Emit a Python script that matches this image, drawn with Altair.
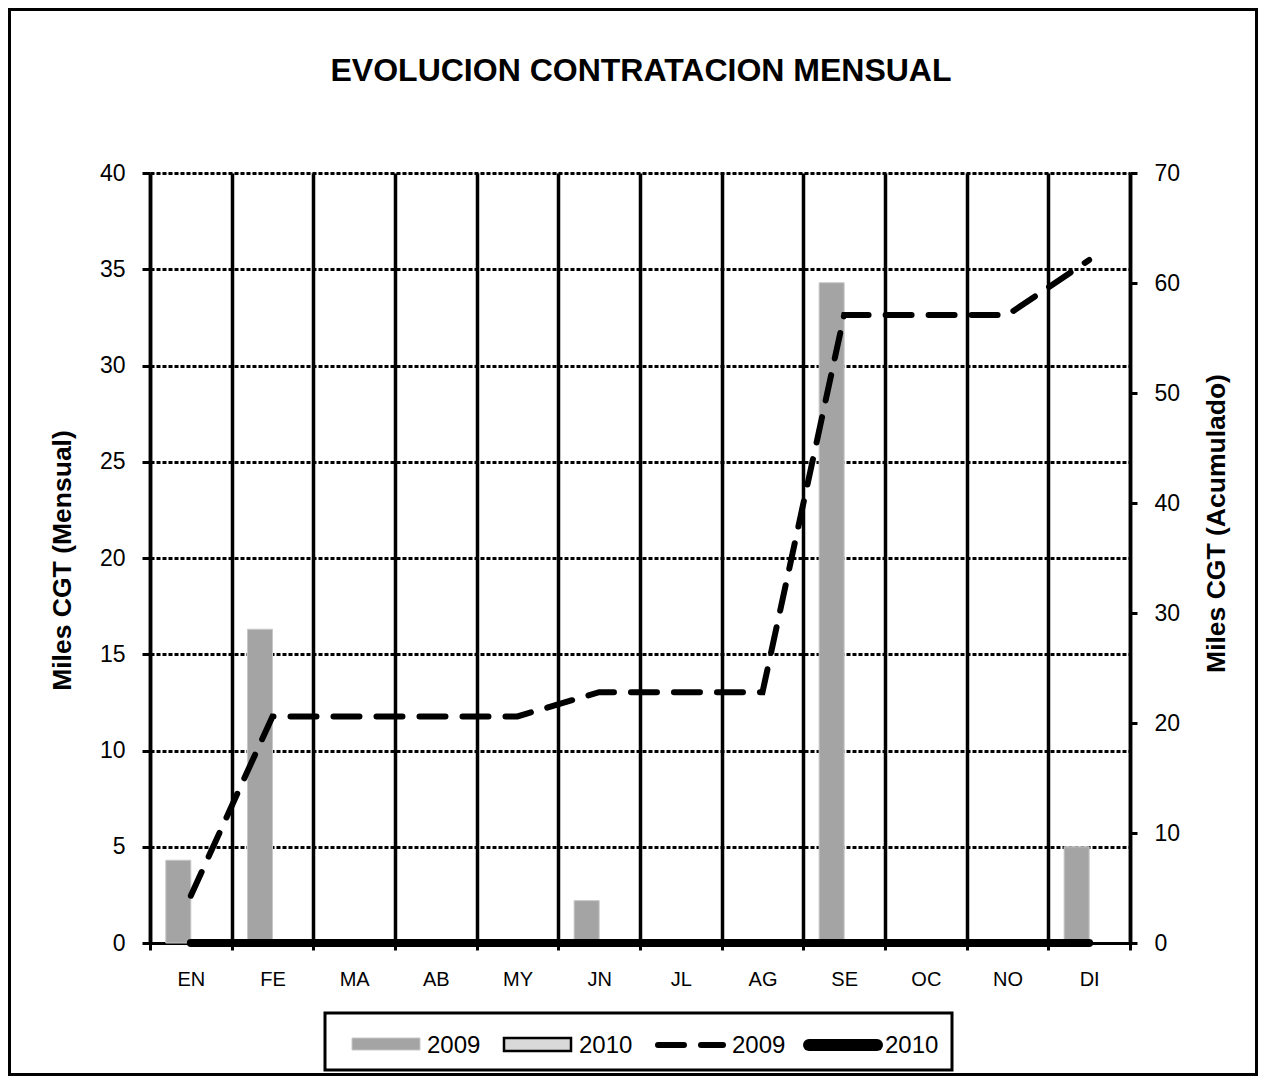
import altair as alt
import pandas as pd

FONT = "Liberation Sans"

months = ["EN", "FE", "MA", "AB", "MY", "JN", "JL", "AG", "SE", "OC", "NO", "DI"]
series = ["2009", "2010"]
monthly_2009 = [4.3, 16.3, 0, 0, 0, 2.2, 0, 0, 34.3, 0, 0, 5.0]
monthly_2010 = [0, 0, 0, 0, 0, 0, 0, 0, 0, 0, 0, 0]
cumulative_2009 = [4.3, 20.6, 20.6, 20.6, 20.6, 22.8, 22.8, 22.8, 57.1, 57.1, 57.1, 62.1]
cumulative_2010 = [0, 0, 0, 0, 0, 0, 0, 0, 0, 0, 0, 0]
left_ticks = [0, 5, 10, 15, 20, 25, 30, 35, 40]
right_ticks = [0, 10, 20, 30, 40, 50, 60, 70]
legend_labels = ["2009", "2010", "2009", "2010"]

bar_df = pd.DataFrame({
    "month": months * 2,
    "series": ["2009"] * 12 + ["2010"] * 12,
    "value": monthly_2009 + monthly_2010,
})
line_df = pd.DataFrame({
    "month": months * 2,
    "series": ["2009"] * 12 + ["2010"] * 12,
    "value": cumulative_2009 + cumulative_2010,
})
one = pd.DataFrame({"k": [0]})

W, H = 980, 770

x_enc = alt.X(
    "month:N", sort=months, title=None,
    scale=alt.Scale(paddingInner=0, paddingOuter=0),
    axis=alt.Axis(
        tickBand="extent", grid=True, gridColor="black", gridWidth=3.5, gridOpacity=1,
        domainColor="black", domainWidth=3, tickColor="black", tickWidth=3, tickSize=7,
        labelFont=FONT, labelFontSize=20, labelColor="black", labelAngle=0,
        labelPadding=29, labelBaseline="middle",
    ),
)

bars = alt.Chart(bar_df).mark_bar(strokeWidth=1).encode(
    x=x_enc,
    xOffset=alt.XOffset("series:N", sort=series,
                        scale=alt.Scale(domain=series, paddingInner=0, paddingOuter=0.63)),
    y=alt.Y(
        "value:Q", scale=alt.Scale(domain=[0, 40], nice=False),
        axis=alt.Axis(
            title="Miles CGT (Mensual)", values=left_ticks, grid=True, gridColor="black",
            gridWidth=3, gridDash=[4, 2], gridOpacity=1,
            domainColor="black", domainWidth=3.5, tickColor="black", tickWidth=3, tickSize=8,
            labelFont=FONT, labelFontSize=23, labelColor="black", labelPadding=17,
            titleFont=FONT, titleFontSize=26.5, titleFontWeight="bold", titleColor="black",
            titleX=-88, titleY=387, titleAngle=270, titleBaseline="middle", titleAlign="center",
        ),
    ),
    fill=alt.Fill("series:N", scale=alt.Scale(domain=series, range=["#a4a4a4", "#d9d9d9"]), legend=None),
    stroke=alt.Stroke("series:N", scale=alt.Scale(domain=series, range=["#c8c8c8", "#000000"]), legend=None),
)

lines = alt.Chart(line_df).mark_line(strokeCap="round", color="black").encode(
    x=alt.X("month:N", sort=months),
    y=alt.Y(
        "value:Q", scale=alt.Scale(domain=[0, 70], nice=False),
        axis=alt.Axis(
            orient="right", title="Miles CGT (Acumulado)", values=right_ticks, grid=False,
            domainColor="black", domainWidth=3.5, tickColor="black", tickWidth=3, tickSize=7,
            labelFont=FONT, labelFontSize=23, labelColor="black", labelPadding=17,
            titleFont=FONT, titleFontSize=26.5, titleFontWeight="bold", titleColor="black",
            titleX=86, titleY=350, titleAngle=270, titleBaseline="middle", titleAlign="center",
        ),
    ),
    detail="series:N",
    strokeDash=alt.StrokeDash("series:N", scale=alt.Scale(domain=series, range=[[26, 17], [1, 0]]), legend=None),
    strokeWidth=alt.StrokeWidth("series:N", scale=alt.Scale(domain=series, range=[6, 8]), legend=None),
)

# outer frame (kept inside the 1266x1088 window)
frame = alt.Chart(one).mark_rect(fillOpacity=0, stroke="black", strokeWidth=3).encode(
    x=alt.value(-140.5), x2=alt.value(1106.5), y=alt.value(-163.5), y2=alt.value(901.5))

title = alt.Chart(one).mark_text(font=FONT, fontSize=32, fontWeight="bold", color="black",
                                 align="center", baseline="middle").encode(
    x=alt.value(491), y=alt.value(-102), text=alt.value("EVOLUCION CONTRATACION MENSUAL"))

# legend
LY = 872
leg_box = alt.Chart(one).mark_rect(fillOpacity=0, stroke="black", strokeWidth=3).encode(
    x=alt.value(175), x2=alt.value(802), y=alt.value(840), y2=alt.value(897))
leg_sw1 = alt.Chart(one).mark_rect(fill="#a4a4a4", stroke="#c8c8c8", strokeWidth=1).encode(
    x=alt.value(202), x2=alt.value(270), y=alt.value(LY - 7), y2=alt.value(LY + 5))
leg_sw2 = alt.Chart(one).mark_rect(fill="#d9d9d9", stroke="black", strokeWidth=2.5).encode(
    x=alt.value(354), x2=alt.value(421), y=alt.value(LY - 7), y2=alt.value(LY + 6))
leg_l1 = alt.Chart(one).mark_rule(strokeWidth=6, strokeDash=[26, 17], strokeCap="round", color="black").encode(
    x=alt.value(508), x2=alt.value(573), y=alt.value(LY))
leg_l2 = alt.Chart(one).mark_rule(strokeWidth=12, strokeCap="round", color="black").encode(
    x=alt.value(659), x2=alt.value(727), y=alt.value(LY))

text_x = [277, 429, 582, 735]
leg_texts = [
    alt.Chart(one).mark_text(font=FONT, fontSize=24, color="black", align="left", baseline="middle").encode(
        x=alt.value(tx), y=alt.value(LY + 1), text=alt.value(lab))
    for tx, lab in zip(text_x, legend_labels)
]

chart = alt.layer(
    bars, lines, frame, title, leg_box, leg_sw1, leg_sw2, leg_l1, leg_l2, *leg_texts
).resolve_scale(y="independent").properties(
    width=W, height=H, padding=0
).configure_view(stroke=None).configure(background="white")

chart.save("out.html", embed_options={"renderer": "svg", "actions": False})
